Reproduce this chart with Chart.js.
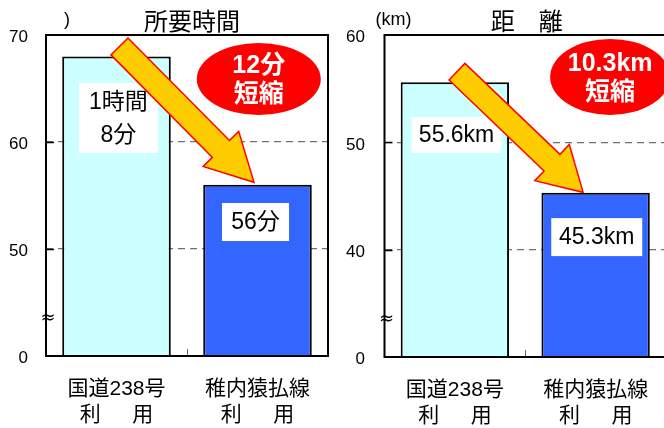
<!DOCTYPE html>
<html><head><meta charset="utf-8">
<script src="https://cdn.jsdelivr.net/npm/chart.js@4.4.1/dist/chart.umd.min.js"></script>
<style>
html,body{margin:0;padding:0;background:#fff;overflow:hidden;width:664px;height:428px;}
#wrap{position:relative;width:664px;height:428px;overflow:hidden;background:#fff;}
canvas{position:absolute;top:0;}
#c1{left:0;} #c2{left:335px;}
</style></head><body>
<div id="wrap"><canvas id="c1" width="335" height="428"></canvas><canvas id="c2" width="335" height="428"></canvas></div>
<script>
// ---- data ----
const categories = [['国道238号', '利　\u2002用'], ['稚内猿払線', '利　\u2002用']];
const timeMinutes = [68, 56];
const distanceKm = [55.6, 45.3];
const timeTickValues = [40, 50, 60, 70];
const timeTickLabels = ['0', '50', '60', '70'];
const distTickValues = [30, 40, 50, 60];
const distTickLabels = ['0', '40', '50', '60'];
const titles = ['所要時間', '距　離'];
const unitLabels = [')', '(km)'];
const barColors = ['#CCFFFF', '#3366FF'];

const FONT = "'Liberation Sans', 'Noto Sans CJK JP', sans-serif";
const CJK = "'Noto Sans CJK JP', 'Liberation Sans', sans-serif";

function timeLabel(m) { return m >= 60 ? [Math.floor(m / 60) + '時間', (m % 60) + '分'] : [m + '分']; }
function distLabel(v) { return [v.toFixed(1) + 'km']; }

const deco = {
  id: 'deco',
  afterDatasetsDraw(chart, args, o) {
    const ctx = chart.ctx, ca = chart.chartArea;
    const xs = chart.scales.x, ys = chart.scales.y;
    const px = v => { const p0 = xs.getPixelForValue(0), p1 = xs.getPixelForValue(1); return p0 + (p1 - p0) * v; };
    const py = v => ys.getPixelForValue(v);
    ctx.save();
    // inward ticks on y axis
    ctx.strokeStyle = '#000'; ctx.lineWidth = 1.5;
    o.innerTicks.forEach(v => {
      const y = Math.round(py(v)) + 0.5;
      ctx.beginPath(); ctx.moveTo(ca.left, y); ctx.lineTo(ca.left + 8, y); ctx.stroke();
    });
    // tick between categories
    ctx.strokeStyle = '#666'; ctx.lineWidth = 1;
    const xm = Math.round(px(0.5)) + 0.5;
    ctx.beginPath(); ctx.moveTo(xm, ca.bottom); ctx.lineTo(xm, ca.bottom - 7); ctx.stroke();
    // frame
    ctx.strokeStyle = '#000'; ctx.lineWidth = 2;
    ctx.strokeRect(ca.left, ca.top, ca.right - ca.left, ca.bottom - ca.top);
    // axis break mark
    ctx.fillStyle = '#000';
    ctx.font = "18px 'DejaVu Sans', 'Liberation Sans'";
    ctx.textAlign = 'center'; ctx.textBaseline = 'middle';
    ctx.fillText('≈', ca.left + 2, py(o.breakAt));
    // value label boxes
    o.boxes.forEach(b => {
      const cx = px(b.cat), cy = py(b.y);
      ctx.fillStyle = '#fff';
      ctx.fillRect(cx - b.w / 2, cy - b.h / 2, b.w, b.h);
      ctx.fillStyle = '#000';
      ctx.font = '23px ' + FONT;
      ctx.textAlign = 'center'; ctx.textBaseline = 'middle';
      const n = b.lines.length, lh = 33;
      b.lines.forEach((t, i) => ctx.fillText(t, cx, cy + (i - (n - 1) / 2) * lh + 1));
    });
    // arrow
    const a = o.arrow;
    const x0 = px(a.from[0]), y0 = py(a.from[1]), x1 = px(a.to[0]), y1 = py(a.to[1]);
    const dx = x1 - x0, dy = y1 - y0, L = Math.hypot(dx, dy), ux = dx / L, uy = dy / L, nx = -uy, ny = ux;
    const bx = x1 - ux * a.head, by = y1 - uy * a.head;
    ctx.beginPath();
    ctx.moveTo(x0 + nx * a.hw, y0 + ny * a.hw);
    ctx.lineTo(bx + nx * a.hw, by + ny * a.hw);
    ctx.lineTo(bx + nx * a.headHw, by + ny * a.headHw);
    ctx.lineTo(x1, y1);
    ctx.lineTo(bx - nx * a.headHw, by - ny * a.headHw);
    ctx.lineTo(bx - nx * a.hw, by - ny * a.hw);
    ctx.lineTo(x0 - nx * a.hw, y0 - ny * a.hw);
    ctx.closePath();
    ctx.fillStyle = '#FFCC00'; ctx.fill();
    ctx.strokeStyle = '#FF0000'; ctx.lineWidth = 1.5; ctx.lineJoin = 'miter'; ctx.stroke();
    // badge
    const g = o.badge;
    const gx = px(g.x), gy = py(g.y);
    ctx.beginPath(); ctx.ellipse(gx, gy, g.rx, g.ry, 0, 0, Math.PI * 2);
    ctx.fillStyle = '#FF0000'; ctx.fill();
    ctx.fillStyle = '#fff';
    ctx.font = 'bold 25px ' + FONT;
    ctx.textAlign = 'center'; ctx.textBaseline = 'middle';
    ctx.fillText(g.lines[0], gx, gy - 13);
    ctx.fillText(g.lines[1], gx, gy + 16);
    ctx.restore();
  },
  afterDraw(chart, args, o) {
    const ctx = chart.ctx, ca = chart.chartArea;
    ctx.save();
    ctx.fillStyle = '#000';
    ctx.font = '24px ' + CJK;
    ctx.textAlign = 'center'; ctx.textBaseline = 'middle';
    ctx.fillText(o.title, (ca.left + ca.right) / 2 + o.titleDx, 21);
    ctx.font = '18px ' + FONT;
    ctx.textAlign = 'right';
    ctx.fillText(o.unit, ca.left + o.unitDx, 20);
    ctx.restore();
  }
};

function makeChart(id, values, tickValues, tickLabels, yPad, geom, decoOpts) {
  const mn = tickValues[0], mx = tickValues[tickValues.length - 1];
  return new Chart(document.getElementById(id), {
    type: 'bar',
    data: {
      labels: categories,
      datasets: [{
        data: values,
        backgroundColor: barColors,
        borderColor: '#000',
        borderWidth: 2,
        borderSkipped: 'start',
        categoryPercentage: 1.0,
        barPercentage: 0.77
      }]
    },
    options: {
      responsive: false,
      animation: false,
      layout: { padding: { top: geom.top, right: geom.right, left: 0, bottom: 0 } },
      plugins: { legend: { display: false }, tooltip: { enabled: false }, title: { display: false }, deco: decoOpts },
      scales: {
        x: {
          grid: { display: false, drawTicks: false },
          border: { display: false },
          ticks: { font: { size: 21, family: FONT, lineHeight: 1.2 }, color: '#000', padding: 21, maxRotation: 0, autoSkip: false },
          afterFit(s) { s.height = geom.xh; }
        },
        y: {
          min: mn, max: mx,
          afterBuildTicks(s) { s.ticks = tickValues.map(v => ({ value: v })); },
          ticks: {
            callback: v => tickLabels[tickValues.indexOf(v)],
            font: { size: 17, family: FONT }, color: '#000',
            padding: yPad, labelOffset: 2.5
          },
          grid: {
            drawTicks: false,
            color: c => (c.tick && (c.tick.value === mn || c.tick.value === mx)) ? 'rgba(0,0,0,0)' : '#707070',
            lineWidth: 1.2
          },
          border: { display: false, dash: [7, 5] },
          afterFit(s) { s.width = geom.yw; }
        }
      }
    },
    plugins: [deco]
  });
}

makeChart('c1', timeMinutes, timeTickValues, timeTickLabels, 18,
  { top: 35, right: 7, xh: 72, yw: 46 },
  {
    innerTicks: [50, 60], breakAt: 43.5,
    title: titles[0], titleDx: 5, unit: unitLabels[0], unitDx: 24,
    boxes: [
      { cat: 0.014, y: 62.24, w: 79, h: 70, lines: timeLabel(timeMinutes[0]) },
      { cat: 0.986, y: 52.52, w: 67, h: 38, lines: timeLabel(timeMinutes[1]) }
    ],
    arrow: { from: [0.021, 68.93], to: [0.975, 56.23], hw: 12, head: 47, headHw: 25 },
    badge: { x: 1.009, y: 65.89, rx: 62, ry: 36, lines: [(timeMinutes[0] - timeMinutes[1]) + '分', '短縮'] }
  });

makeChart('c2', distanceKm, distTickValues, distTickLabels, 19.5,
  { top: 35, right: 3.5, xh: 71, yw: 49.5 },
  {
    innerTicks: [40, 50], breakAt: 33.5,
    title: titles[1], titleDx: 1.5, unit: unitLabels[1], unitDx: 27,
    boxes: [
      { cat: 0.012, y: 50.68, w: 90, h: 36, lines: distLabel(distanceKm[0]) },
      { cat: 1.008, y: 41.17, w: 91, h: 38, lines: distLabel(distanceKm[1]) }
    ],
    arrow: { from: [0.015, 56.58], to: [0.911, 45.34], hw: 11.5, head: 43, headHw: 25 },
    badge: { x: 1.103, y: 56.09, rx: 60, ry: 38, lines: [(distanceKm[0] - distanceKm[1]).toFixed(1) + 'km', '短縮'] }
  });
</script>
</body></html>
